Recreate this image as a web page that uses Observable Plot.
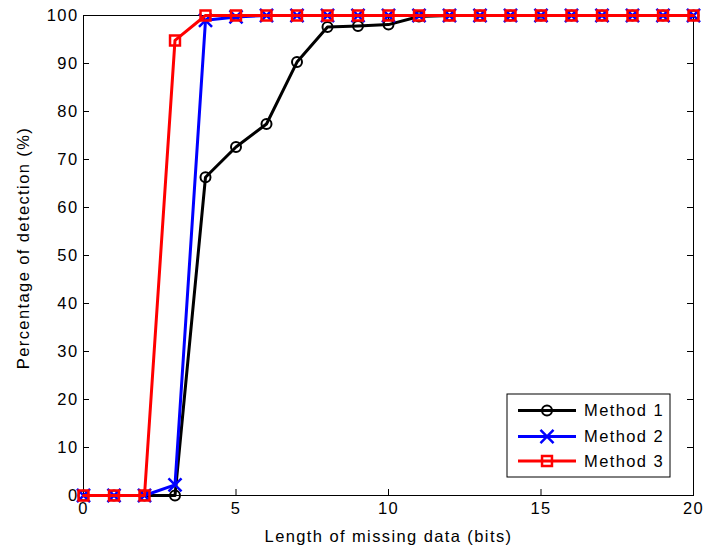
<!DOCTYPE html>
<html><head><meta charset="utf-8">
<script src="https://cdn.jsdelivr.net/npm/d3@7"></script>
<script src="https://cdn.jsdelivr.net/npm/@observablehq/plot@0.6"></script>
<style>
body{margin:0;background:#fff;}
#chart svg text{letter-spacing:1.4px;}
</style></head><body><div id="chart"></div>
<script>
const lengths = [0,1,2,3,4,5,6,7,8,9,10,11,12,13,14,15,16,17,18,19,20];
const method1 = [0,0,0,0,66.3,72.6,77.4,90.3,97.6,97.8,98.1,99.8,100,100,100,100,100,100,100,100,100];
const method2 = [0,0,0,2.2,99.0,99.7,100,100,100,100,100,100,100,100,100,100,100,100,100,100,100];
const method3 = [0,0,0,94.8,100,100,100,100,100,100,100,100,100,100,100,100,100,100,100,100,100];
const seriesNames = ["Method 1","Method 2","Method 3"];
const seriesColors = ["#000000","#0000ff","#ff0000"];
const seriesSymbols = ["circle","times","square"];
const xTicks = [0,5,10,15,20];
const yTicks = [0,10,20,30,40,50,60,70,80,90,100];
const xLabel = "Length of missing data (bits)";
const yLabel = "Percentage of detection (%)";

const seriesValues = [method1, method2, method3];
const rows = [];
seriesValues.forEach((vals,i)=>vals.forEach((v,j)=>rows.push({series: seriesNames[i], x: lengths[j], y: v})));

const W=703,H=551,mL=83,mR=10,mT=15,mB=56;
const iw=W-mL-mR, ih=H-mT-mB, tk=6;
const symR = [5, 6, 5.6];
const symSW = [2, 2.5, 2.5];

const seriesMarks = seriesNames.flatMap((name,i)=>{
  const d = rows.filter(r=>r.series===name);
  return [
    Plot.line(d,{x:"x",y:"y",stroke:seriesColors[i],strokeWidth:3}),
    Plot.dot(d,{x:"x",y:"y",stroke:seriesColors[i],strokeWidth:symSW[i],symbol:seriesSymbols[i],r:symR[i],fill:"none"})
  ];
});

const plot = Plot.plot({
  width:W,height:H,marginLeft:mL,marginRight:mR,marginTop:mT,marginBottom:mB,
  style:{fontFamily:"'Liberation Sans', Arial, sans-serif",fontSize:"16.5px",background:"#fff",color:"#000",overflow:"visible"},
  x:{domain:[0,20]},
  y:{domain:[0,100]},
  marks:[
    Plot.axisX(xTicks,{tickSize:0,tickPadding:7,label:null,fontSize:16.5}),
    Plot.axisY(yTicks,{tickSize:0,tickPadding:5,label:null,fontSize:16.5}),
    Plot.tickX(xTicks,{x:d=>d,insetTop:ih-tk,stroke:"black"}),
    Plot.tickX(xTicks,{x:d=>d,insetBottom:ih-tk,stroke:"black"}),
    Plot.tickY(yTicks,{y:d=>d,insetRight:iw-tk,stroke:"black"}),
    Plot.tickY(yTicks,{y:d=>d,insetLeft:iw-tk,stroke:"black"}),
    Plot.frame({stroke:"black",strokeWidth:1}),
    ...seriesMarks,
    Plot.text([xLabel],{frameAnchor:"bottom",dy:46.5,fontSize:16.5,fill:"black"})
  ]
});

const svg = d3.select(plot);
// y-axis label
svg.append("text").attr("transform","translate(28.5,248) rotate(-90)")
  .attr("text-anchor","middle").attr("font-size",16.5).attr("fill","#000").text(yLabel);

// legend
const lg = svg.append("g");
const bx=507, by=394, bw=163, bh=83;
lg.append("rect").attr("x",bx).attr("y",by).attr("width",bw).attr("height",bh).attr("fill","#fff").attr("stroke","#000").attr("stroke-width",1);
const rowY = [410.5, 436.5, 461];
const symMap = {circle:d3.symbolCircle, times:d3.symbolTimes, square:d3.symbolSquare};
seriesNames.forEach((name,i)=>{
  const y=rowY[i];
  lg.append("line").attr("x1",518).attr("x2",576).attr("y1",y).attr("y2",y).attr("stroke",seriesColors[i]).attr("stroke-width",3);
  lg.append("path").attr("d",d3.symbol(symMap[seriesSymbols[i]], Math.PI*symR[i]*symR[i])()).attr("transform",`translate(547,${y})`)
    .attr("fill","none").attr("stroke",seriesColors[i]).attr("stroke-width",symSW[i]);
  lg.append("text").attr("x",584).attr("y",y).attr("dy","0.36em").attr("text-anchor","start").attr("font-size",16.5).attr("fill","#000").text(name);
});
document.getElementById("chart").appendChild(plot);
</script></body></html>
